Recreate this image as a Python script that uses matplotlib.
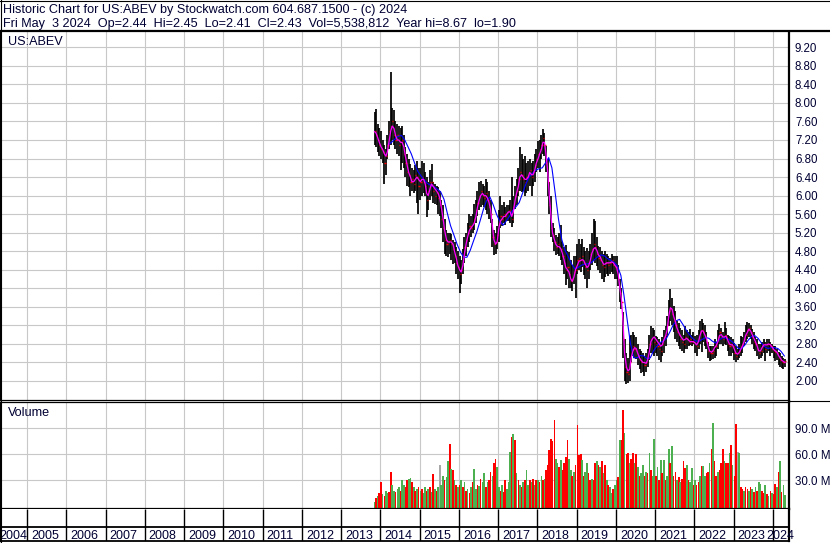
import numpy as np
import pandas as pd
import matplotlib
matplotlib.use("Agg")
import matplotlib.pyplot as plt
from matplotlib.lines import Line2D

plt.rcParams['font.family'] = ['Liberation Sans', 'DejaVu Sans']

# ---------------------------------------------------------------- data
# semi-monthly bars, Nov 2013 .. Apr 2024
hi = [7.80, 7.86, 7.55, 7.45,
      7.40, 7.20, 7.10, 7.00, 7.30, 7.60, 8.67, 7.90, 7.85, 7.60, 7.55, 7.50, 7.45, 7.50, 7.30, 7.05, 6.90, 6.80, 6.68, 6.60, 6.55, 6.65, 6.75, 6.60,
      6.60, 6.75, 6.70, 6.50, 6.40, 6.30, 6.55, 6.68, 6.30, 6.25, 6.20, 6.18, 6.10, 5.90, 5.80, 5.50, 5.25, 5.20, 5.20, 5.17, 5.05, 5.00, 4.90, 4.80,
      4.70, 4.60, 4.85, 5.10, 5.20, 5.40, 5.60, 5.55, 5.60, 5.82, 5.90, 6.10, 6.30, 6.32, 6.25, 6.20, 6.36, 6.30, 6.10, 5.90, 5.50, 5.25, 5.20, 5.35,
      5.70, 6.00, 5.80, 5.86, 5.75, 5.79, 5.80, 5.90, 6.40, 6.00, 6.20, 6.36, 6.60, 7.04, 6.90, 6.80, 6.86, 6.70, 6.75, 6.79, 6.70, 6.75, 6.90, 7.00,
      7.18, 7.20, 7.30, 7.43, 7.35, 7.08, 6.80, 6.30, 6.00, 5.40, 5.30, 5.14, 5.10, 5.20, 5.36, 5.00, 4.90, 4.93, 4.80, 4.78, 4.60, 4.50, 4.70, 4.70,
      4.95, 5.07, 4.95, 5.07, 4.90, 4.80, 4.86, 4.80, 4.95, 5.20, 5.50, 5.46, 5.10, 4.92, 4.90, 4.81, 4.75, 4.80, 4.74, 4.70, 4.65, 4.74, 4.70, 4.70,
      4.70, 4.50, 4.20, 4.00, 3.48, 2.90, 2.61, 2.50, 2.97, 3.00, 3.05, 3.00, 2.95, 2.80, 2.69, 2.65, 2.61, 2.55, 2.60, 2.70, 3.00, 3.19, 3.15, 3.10,
      2.97, 2.95, 2.90, 2.85, 2.95, 3.10, 3.19, 3.40, 3.75, 3.98, 3.80, 3.62, 3.50, 3.30, 3.26, 3.15, 3.10, 3.00, 3.19, 3.10, 3.05, 3.12, 3.00, 3.05,
      2.98, 3.00, 3.10, 3.30, 3.34, 3.25, 3.20, 3.05, 2.85, 2.76, 2.75, 2.75, 2.90, 2.85, 3.10, 3.23, 3.15, 3.05, 3.27, 3.15, 3.00, 2.98, 2.95, 2.90,
      2.83, 2.75, 2.70, 2.80, 2.98, 2.95, 3.05, 3.20, 3.27, 3.25, 3.20, 3.12, 3.05, 2.95, 2.90, 2.80, 2.80, 2.85, 2.90, 2.85, 2.90, 2.90, 2.85, 2.80,
      2.76, 2.75, 2.70, 2.62, 2.60, 2.55, 2.50, 2.47]

lo = [7.10, 7.05, 6.95, 6.85,
      6.80, 6.70, 6.25, 6.45, 6.80, 7.00, 7.10, 7.20, 7.10, 7.00, 6.90, 6.85, 6.55, 6.70, 6.60, 6.40, 6.20, 6.18, 6.00, 6.10, 6.05, 6.10, 5.85, 5.60,
      5.90, 6.00, 6.05, 6.00, 5.53, 5.70, 5.90, 6.00, 5.85, 5.82, 5.80, 5.60, 5.55, 5.30, 5.00, 4.75, 4.70, 4.67, 4.75, 4.60, 4.53, 4.55, 4.30, 4.20,
      3.90, 4.10, 4.30, 4.55, 4.70, 4.90, 5.00, 5.10, 5.20, 5.25, 5.40, 5.55, 5.70, 5.75, 5.80, 5.75, 5.70, 5.60, 5.50, 5.40, 4.90, 4.71, 4.75, 4.85,
      5.00, 5.30, 5.35, 5.40, 5.36, 5.45, 5.45, 5.40, 5.32, 5.40, 5.71, 5.80, 6.00, 6.10, 6.07, 6.10, 6.00, 6.05, 6.10, 6.20, 6.00, 6.20, 6.30, 6.50,
      6.60, 6.50, 6.79, 6.90, 6.85, 6.50, 6.00, 5.60, 5.10, 5.00, 4.80, 4.71, 4.75, 4.70, 4.60, 4.50, 4.30, 4.07, 4.20, 4.00, 4.00, 3.95, 4.10, 3.80,
      4.30, 4.40, 4.35, 4.45, 4.28, 4.20, 4.00, 4.20, 4.40, 4.50, 4.60, 4.55, 4.48, 4.40, 4.34, 4.20, 4.13, 4.25, 4.30, 4.27, 4.30, 4.35, 4.30, 4.20,
      4.20, 4.05, 3.70, 3.55, 2.50, 2.00, 1.93, 1.95, 2.00, 2.40, 2.54, 2.50, 2.47, 2.35, 2.25, 2.18, 2.20, 2.11, 2.20, 2.30, 2.45, 2.60, 2.60, 2.54,
      2.60, 2.54, 2.45, 2.40, 2.55, 2.61, 2.75, 2.95, 3.19, 3.30, 3.20, 3.05, 2.90, 2.85, 2.75, 2.69, 2.65, 2.61, 2.70, 2.70, 2.76, 2.78, 2.76, 2.80,
      2.60, 2.54, 2.70, 2.80, 2.62, 2.85, 2.75, 2.69, 2.50, 2.44, 2.45, 2.47, 2.50, 2.55, 2.69, 2.80, 2.80, 2.76, 2.80, 2.78, 2.65, 2.54, 2.55, 2.60,
      2.45, 2.40, 2.45, 2.50, 2.54, 2.60, 2.76, 2.85, 2.90, 2.95, 2.90, 2.80, 2.69, 2.65, 2.55, 2.47, 2.50, 2.55, 2.60, 2.44, 2.60, 2.65, 2.54, 2.60,
      2.50, 2.44, 2.45, 2.35, 2.30, 2.29, 2.26, 2.30]

cl = [7.40, 7.30, 7.20, 7.10,
      7.00, 6.95, 6.70, 6.85, 7.10, 7.40, 7.50, 7.60, 7.30, 7.20, 7.30, 7.10, 7.15, 7.20, 6.90, 6.70, 6.50, 6.45, 6.30, 6.35, 6.25, 6.45, 6.40, 6.20,
      6.30, 6.40, 6.30, 6.20, 5.90, 6.10, 6.30, 6.30, 6.10, 6.00, 6.05, 5.95, 5.80, 5.50, 5.30, 5.05, 4.95, 5.00, 5.05, 4.95, 4.85, 4.70, 4.55, 4.45,
      4.30, 4.40, 4.70, 4.90, 5.05, 5.20, 5.35, 5.30, 5.40, 5.50, 5.70, 5.85, 6.00, 6.10, 6.00, 5.95, 6.05, 5.90, 5.75, 5.60, 5.10, 4.95, 5.00, 5.15,
      5.40, 5.55, 5.50, 5.60, 5.55, 5.65, 5.70, 5.60, 5.50, 5.75, 6.00, 6.10, 6.35, 6.50, 6.45, 6.35, 6.30, 6.40, 6.45, 6.55, 6.40, 6.50, 6.65, 6.80,
      6.90, 7.00, 7.10, 7.25, 7.10, 6.70, 6.30, 5.80, 5.30, 5.15, 5.00, 4.90, 4.95, 4.90, 4.85, 4.70, 4.55, 4.40, 4.45, 4.30, 4.15, 4.20, 4.35, 4.40,
      4.60, 4.65, 4.60, 4.70, 4.55, 4.45, 4.40, 4.55, 4.75, 4.85, 4.95, 4.90, 4.75, 4.65, 4.60, 4.50, 4.45, 4.55, 4.55, 4.50, 4.55, 4.60, 4.50, 4.45,
      4.45, 4.20, 3.90, 3.70, 2.90, 2.30, 2.20, 2.15, 2.40, 2.70, 2.75, 2.70, 2.65, 2.55, 2.45, 2.40, 2.40, 2.35, 2.40, 2.50, 2.80, 2.90, 2.95, 2.85,
      2.80, 2.75, 2.70, 2.65, 2.80, 2.95, 3.00, 3.20, 3.50, 3.55, 3.45, 3.30, 3.20, 3.05, 3.00, 2.90, 2.85, 2.80, 2.95, 2.90, 2.85, 2.90, 2.85, 2.90,
      2.80, 2.75, 2.90, 3.05, 3.10, 3.05, 2.95, 2.85, 2.65, 2.60, 2.60, 2.65, 2.75, 2.75, 2.95, 3.05, 2.95, 2.90, 3.00, 2.95, 2.80, 2.75, 2.80, 2.75,
      2.60, 2.55, 2.60, 2.65, 2.75, 2.80, 2.90, 3.00, 3.10, 3.15, 3.05, 2.95, 2.85, 2.80, 2.70, 2.60, 2.65, 2.75, 2.80, 2.70, 2.80, 2.80, 2.75, 2.70,
      2.65, 2.62, 2.60, 2.50, 2.45, 2.40, 2.40, 2.43]

ma_short = [7.38, 7.35, 7.25, 7.15,
            7.05, 7.00, 6.90, 6.85, 6.95, 7.15, 7.40, 7.50, 7.45, 7.30, 7.20, 7.20, 7.15, 7.15, 7.05, 6.85, 6.65, 6.50, 6.40, 6.30, 6.30, 6.35, 6.40, 6.35,
            6.30, 6.35, 6.35, 6.25, 6.05, 6.00, 6.15, 6.25, 6.20, 6.15, 6.10, 6.05, 5.95, 5.75, 5.50, 5.25, 5.05, 5.00, 5.00, 5.00, 4.95, 4.80, 4.65, 4.50,
            4.40, 4.35, 4.50, 4.75, 4.95, 5.10, 5.25, 5.30, 5.35, 5.40, 5.55, 5.75, 5.90, 6.00, 6.05, 6.00, 6.00, 5.95, 5.85, 5.70, 5.35, 5.05, 4.95, 5.00,
            5.30, 5.45, 5.50, 5.55, 5.55, 5.60, 5.65, 5.65, 5.55, 5.65, 5.90, 6.05, 6.20, 6.40, 6.45, 6.40, 6.35, 6.35, 6.40, 6.50, 6.45, 6.45, 6.55, 6.70,
            6.80, 6.90, 7.00, 7.15, 7.15, 6.90, 6.50, 6.00, 5.55, 5.20, 5.05, 4.95, 4.90, 4.90, 4.85, 4.75, 4.60, 4.45, 4.40, 4.35, 4.20, 4.15, 4.25, 4.40,
            4.50, 4.58, 4.60, 4.62, 4.60, 4.52, 4.45, 4.48, 4.60, 4.75, 4.85, 4.88, 4.82, 4.72, 4.68, 4.60, 4.52, 4.52, 4.55, 4.55, 4.55, 4.57, 4.55, 4.50,
            4.45, 4.30, 4.00, 3.75, 3.25, 2.60, 2.30, 2.22, 2.25, 2.50, 2.65, 2.72, 2.70, 2.60, 2.50, 2.45, 2.40, 2.40, 2.38, 2.45, 2.65, 2.85, 2.92, 2.95,
            2.90, 2.85, 2.80, 2.75, 2.78, 2.88, 2.97, 3.10, 3.40, 3.58, 3.55, 3.40, 3.28, 3.15, 3.05, 2.98, 2.92, 2.88, 2.90, 2.92, 2.88, 2.85, 2.85, 2.85,
            2.82, 2.78, 2.85, 2.98, 3.08, 3.08, 3.00, 2.92, 2.75, 2.65, 2.62, 2.65, 2.72, 2.76, 2.85, 2.98, 3.00, 2.95, 2.95, 2.97, 2.88, 2.80, 2.78, 2.78,
            2.68, 2.60, 2.58, 2.62, 2.68, 2.75, 2.85, 2.98, 3.05, 3.12, 3.08, 3.00, 2.92, 2.85, 2.75, 2.65, 2.65, 2.72, 2.78, 2.78, 2.78, 2.80, 2.78, 2.74,
            2.68, 2.65, 2.62, 2.55, 2.50, 2.45, 2.42, 2.40]

# monthly long moving average (blue), Nov 2013 .. Apr 2024
ma_long = [np.nan, np.nan,
           np.nan, np.nan, 7.10, 7.15, 7.22, 7.28, 7.30, 7.20, 7.05, 6.90, 6.70, 6.52,
           6.42, 6.33, 6.26, 6.22, 6.19, 6.14, 6.08, 5.92, 5.62, 5.35, 5.15, 4.95,
           4.78, 4.67, 4.67, 4.82, 5.02, 5.22, 5.45, 5.70, 5.90, 5.97, 5.80, 5.60,
           5.45, 5.36, 5.45, 5.55, 5.68, 5.76, 5.85, 6.05, 6.25, 6.40, 6.48, 6.55,
           6.58, 6.60, 6.70, 6.82, 6.60, 6.05, 5.50, 5.05, 4.82, 4.68, 4.52, 4.42,
           4.45, 4.50, 4.52, 4.53, 4.55, 4.62, 4.68, 4.72, 4.70, 4.64, 4.60, 4.56,
           4.48, 4.28, 3.85, 3.30, 2.80, 2.50, 2.50, 2.55, 2.54, 2.48, 2.50, 2.65,
           2.75, 2.83, 2.86, 2.92, 3.05, 3.20, 3.30, 3.33, 3.22, 3.10, 3.00, 2.92,
           2.86, 2.86, 2.90, 2.94, 2.92, 2.86, 2.82, 2.88, 2.93, 2.93, 2.90, 2.85,
           2.78, 2.70, 2.70, 2.78, 2.88, 2.96, 2.98, 2.92, 2.82, 2.74, 2.70, 2.72,
           2.72, 2.70, 2.64, 2.54]

# volume in millions, semi-monthly; r = down, g = up, x = unchanged
vol = [5, 10, 12, 15,
       28, 14, 12, 18, 15, 16, 39, 25, 18, 16, 20, 22, 18, 30, 25, 22, 30, 32, 33, 28, 22, 18, 20, 22,
       18, 20, 15, 22, 18, 20, 22, 16, 37, 20, 18, 22, 48, 25, 35, 30, 34, 52, 72, 43, 42, 30, 25, 22,
       25, 30, 22, 28, 18, 20, 15, 22, 28, 43, 20, 25, 24, 32, 28, 38, 22, 28, 30, 40, 35, 50, 55, 45,
       22, 18, 25, 16, 30, 20, 28, 63, 80, 83, 76, 38, 30, 25, 22, 28, 30, 42, 25, 30, 28, 32, 25, 30,
       30, 28, 35, 30, 32, 42, 48, 65, 78, 75, 99, 55, 50, 45, 53, 42, 50, 57, 76, 55, 42, 35, 40, 48,
       94, 59, 60, 53, 35, 40, 50, 38, 30, 32, 30, 50, 52, 48, 45, 52, 38, 48, 30, 25, 22, 15, 20, 25,
       30, 34, 76, 77, 111, 84, 60, 61, 50, 55, 61, 50, 60, 45, 35, 38, 48, 35, 40, 38, 61, 42, 35, 78,
       35, 45, 30, 53, 38, 53, 30, 35, 66, 50, 69, 35, 40, 30, 34, 28, 32, 52, 44, 48, 30, 28, 44, 25,
       30, 25, 28, 35, 46, 46, 35, 38, 40, 50, 66, 96, 52, 35, 40, 42, 50, 66, 52, 50, 50, 61, 71, 48,
       35, 95, 63, 62, 22, 20, 18, 22, 20, 18, 22, 20, 16, 22, 18, 28, 26, 18, 15, 25, 14, 12, 18, 15,
       14, 26, 22, 39, 52, 16, 25, 13]

vol_dir = ("grgr"
           "rgrggrrggrggrggrrggrgrgr"
           "grggrgrgrgrgxggrggrgrgrg"
           "rgrgrgrgrggrgrggrgrrgrrg"
           "grgrrgggrgrgrgrgrggrgrgr"
           "grgrgrrrrrrggrgrrrrggrgr"
           "rrrgrggrrgrrgrgrgrgrggrg"
           "grgrrgrrgrrgrgrggrgrgrgg"
           "rgrgrgrggrgrrgrgrrrgrggr"
           "grrgrggrrgrgrrgrrrgrrgrg"
           "rrxgrrgrrgrgrgrggrrgrgrg"
           "rrgrgrgg")

years = list(range(2004, 2025))

# ---------------------------------------------------------------- layout
W, H = 830, 543
PX_PER_YEAR = 39.26
X0 = 2005 - 27 / PX_PER_YEAR          # year at left edge (pixel 0)
X1 = X0 + 789 / PX_PER_YEAR           # year at right border (pixel 789)

def rect(x0, y0, x1, y1):
    return [x0 / W, 1 - y1 / H, (x1 - x0) / W, (y1 - y0) / H]

def dec_year(d):
    return d.year + (d.dayofyear - 1) / 365.25

half = pd.date_range('2013-11-01', periods=len(hi), freq='SMS')
t = np.array([dec_year(d) for d in half]) + 7 / 365.25
month = pd.date_range('2013-11-01', periods=len(ma_long), freq='MS')
tm = np.array([dec_year(d) for d in month]) + 15 / 365.25

grid_c = '#c8c8c8'
txt_c = '#000033'
fs = 9.1

fig = plt.figure(figsize=(W / 100, H / 100), dpi=100)

# header
fig.text(3 / W, 1 - 13.5 / H, 'Historic Chart for US:ABEV by Stockwatch.com 604.687.1500 - (c) 2024',
         fontsize=fs, color=txt_c, va='baseline')
fig.text(3 / W, 1 - 27.5 / H,
         'Fri May  3 2024  Op=2.44  Hi=2.45  Lo=2.41  Cl=2.43  Vol=5,538,812  Year hi=8.67  lo=1.90',
         fontsize=fs, color=txt_c, va='baseline')

# ---- price panel
ax = fig.add_axes(rect(0, 32, 789, 400))
ax.set_xlim(X0, X1)
ax.set_ylim(1.59, 9.53)
price_ticks = np.arange(2.0, 9.21, 0.4)
ax.set_yticks(price_ticks)
ax.set_yticklabels(['%.2f' % v for v in price_ticks])
ax.yaxis.tick_right()
ax.tick_params(axis='y', length=0, pad=4.3, labelsize=8.3, labelcolor=txt_c)
ax.set_xticks([])
for v in price_ticks:
    ax.axhline(v, color=grid_c, lw=0.8, zorder=0)
for y in years[1:]:
    ax.axvline(y, color=grid_c, lw=0.8, zorder=0)

ax.vlines(t, lo, hi, color='black', lw=1.25, zorder=2)
ax.hlines(cl, t, t + 0.03, color='#ff0000', lw=1.0, zorder=3)
ax.plot(tm, ma_long, color='#0000ff', lw=0.8, zorder=4)
ax.plot(t, ma_short, color='#ff00ff', lw=0.9, zorder=5)
ax.text(8 / 789, 1 - 10 / 368, 'US:ABEV', transform=ax.transAxes, fontsize=fs,
        color=txt_c, va='center', ha='left')

ax.spines['top'].set_visible(False)
ax.spines['right'].set_linewidth(1.6)
ax.spines['left'].set_linewidth(1.0)
ax.spines['bottom'].set_linewidth(0.9)

# ---- volume panel
av = fig.add_axes(rect(0, 402, 789, 509))
av.set_xlim(X0, X1)
vmin, vmax = -3.1, 120.3
av.set_ylim(vmin, vmax)
vol_ticks = [30, 60, 90]
av.set_yticks(vol_ticks)
av.set_yticklabels(['%.1f M' % v for v in vol_ticks])
av.yaxis.tick_right()
av.tick_params(axis='y', length=0, pad=4.3, labelsize=8.3, labelcolor=txt_c)
av.set_xticks([])
for v in vol_ticks:
    av.axhline(v, color=grid_c, lw=0.8, zorder=0)
for y in years[1:]:
    av.axvline(y, color=grid_c, lw=0.8, zorder=0)
cmap = {'r': '#ff0000', 'g': '#4caf50', 'x': '#a8a8a8'}
colors = [cmap[c] for c in vol_dir]
bw = 1 / 24
av.bar(t, np.array(vol) - vmin, bottom=vmin, width=bw, color=colors, linewidth=0, zorder=2)
av.text(8 / 789, 1 - 11 / 107, 'Volume', transform=av.transAxes, fontsize=fs,
        color=txt_c, va='center', ha='left')
av.spines['top'].set_linewidth(0.9)
av.spines['right'].set_linewidth(1.6)
av.spines['left'].set_linewidth(1.0)
av.spines['bottom'].set_linewidth(1.6)

# ---- year strip
ay = fig.add_axes(rect(0, 509, 789, 541))
ay.set_xlim(X0, X1)
ay.set_ylim(0, 32)
ay.set_xticks([])
ay.set_yticks([])
ay.axhline(14, color='black', lw=1.3)
ay.vlines(years[1:], 0, 32, color='black', lw=1.0)
for y in years:
    xpos = y + 4 / PX_PER_YEAR
    if y == years[0]:
        xpos = years[1] - 28 / PX_PER_YEAR
    if y == years[-1]:
        xpos = years[-1] - 7 / PX_PER_YEAR
    ay.text(xpos, 2, str(y), fontsize=9.0, color=txt_c, va='baseline', ha='left')
ay.spines['top'].set_visible(False)
ay.spines['right'].set_linewidth(1.6)
ay.spines['bottom'].set_linewidth(1.3)
ay.spines['left'].set_linewidth(1.0)

# frame rules
fig.add_artist(Line2D([0, 1], [1 - 30.5 / H, 1 - 30.5 / H], color='black', lw=1.6))
fig.add_artist(Line2D([0, 1], [1 - 0.5 / H, 1 - 0.5 / H], color='black', lw=0.8))
fig.add_artist(Line2D([0.5 / W, 0.5 / W], [0, 1], color='black', lw=0.8))
fig.add_artist(Line2D([789 / W, 1], [1 - 400.5 / H, 1 - 400.5 / H], color='black', lw=0.8))

fig.savefig('out.png', dpi=100)
